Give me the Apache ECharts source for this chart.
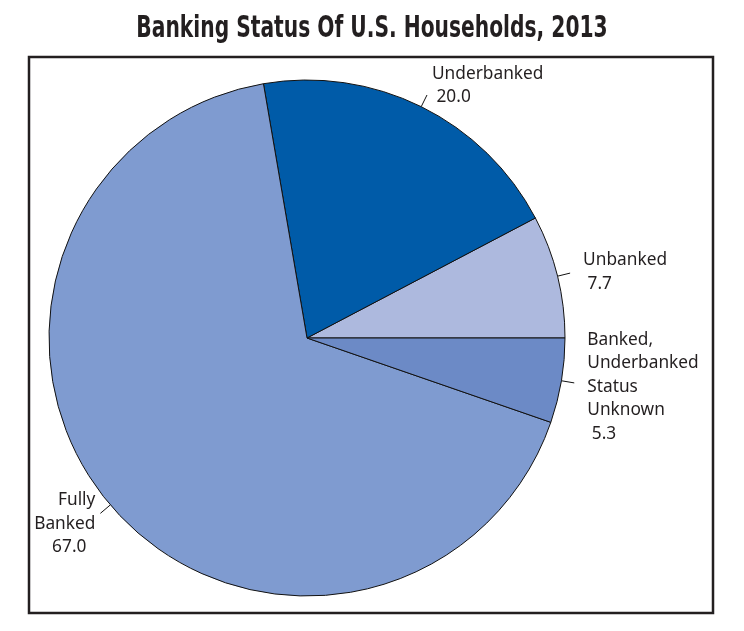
<!DOCTYPE html>
<html><head><meta charset="utf-8">
<script src="https://cdn.jsdelivr.net/npm/echarts@6/dist/echarts.min.js"></script>
<style>html,body{margin:0;padding:0;background:#fff}#c{width:744px;height:631px}</style>
</head><body><div id="c"></div>
<script>
const titleText = 'Banking Status Of U.S. Households, 2013';
const categories = ['Unbanked', 'Underbanked', 'Fully\nBanked', 'Banked,\nUnderbanked\nStatus\nUnknown'];
const values = [7.7, 20.0, 67.0, 5.3];
const colors = ['#adb9de', '#005ba8', '#7f9bd0', '#6c8ac6'];
// label tuning: [gapBefore, gapAfter] in px, horizontal padding
const labelGaps = [[0, 2], [0, 19], [21, 0], [8, 0]];
const labelPads = [[0,0,0,8], [0,0,0,0], [0,0,0,0], [0,0,0,8]];
const FONT = '"Noto Sans", "Open Sans", sans-serif';

function labelText(i, name, value) {
  const v = value.toFixed(1);
  let body = i === 2 ? name + '\n' + v + '  ' : name + '\n ' + v;
  body = body.split('\n').map(s => '{t|' + s + '}').join('\n');
  const g = labelGaps[i];
  if (g[0]) body = '{g' + i + 'a| }\n' + body;
  if (g[1]) body = body + '\n{g' + i + 'b| }';
  return body;
}
const rich = { t: { fontFamily: FONT, fontSize: 17.3, lineHeight: 23.5, color: '#231f20' } };
labelGaps.forEach((g, i) => {
  rich['g' + i + 'a'] = { fontSize: 1, lineHeight: g[0] || 1 };
  rich['g' + i + 'b'] = { fontSize: 1, lineHeight: g[1] || 1 };
});

const chart = echarts.init(document.getElementById('c'));
chart.setOption({
  animation: false,
  graphic: [{
    type: 'rect', shape: { x: 29, y: 57, width: 684, height: 556 },
    style: { fill: 'none', stroke: '#231f20', lineWidth: 2.5 }, silent: true
  }, {
    type: 'text', x: 372, y: 29, scaleX: 0.75, silent: true,
    style: { text: titleText, font: 'bold 30px "DejaVu Sans Condensed", "Liberation Sans Narrow", sans-serif',
      fill: '#231f20', textAlign: 'center', textVerticalAlign: 'middle' }
  }],
  series: [{
    type: 'pie',
    center: [307, 338], radius: 258,
    startAngle: 0, clockwise: false,
    avoidLabelOverlap: false,
    itemStyle: { borderColor: '#111', borderWidth: 1 },
    label: {
      show: true, position: 'outside', distanceToLabelLine: 5, rich: rich,
      formatter: p => labelText(p.dataIndex, p.name, p.value)
    },
    labelLine: { show: true, length: 13, length2: 0, lineStyle: { color: '#111', width: 1 } },
    data: categories.map((n, i) => ({
      name: n, value: values[i], itemStyle: { color: colors[i] },
      label: { padding: labelPads[i], align: i === 2 ? 'right' : 'left' }
    }))
  }]
});
</script></body></html>
